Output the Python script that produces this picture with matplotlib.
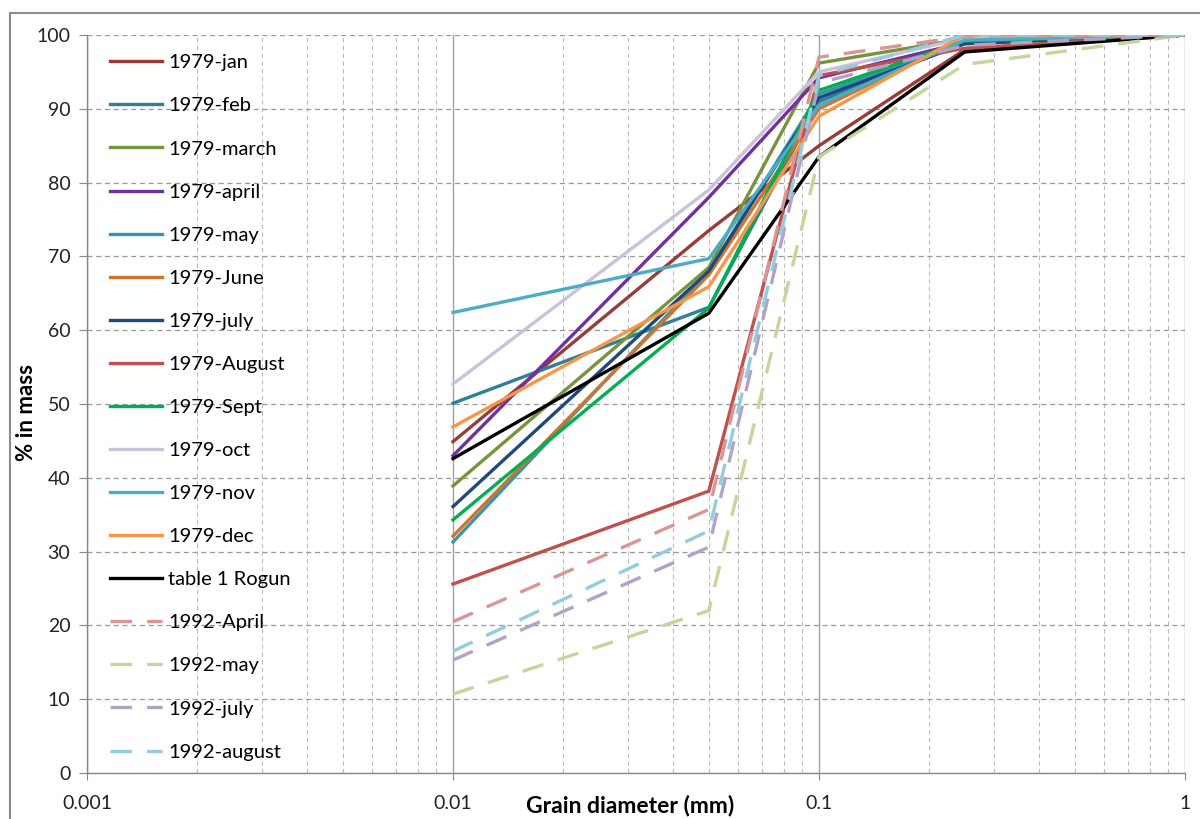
import matplotlib
matplotlib.use("Agg")
import matplotlib.pyplot as plt
from matplotlib.patches import Rectangle
from matplotlib.ticker import FixedLocator, NullFormatter, LogLocator

plt.rcParams['font.family'] = ['Lato', 'DejaVu Sans']

# grain diameters (mm) where each sample was measured
diameters = [0.01, 0.05, 0.1, 0.25, 1.0]

# % passing in mass, one list per sample
jan_1979 = [44.9, 73.5, 85.0, 98.0, 100]
feb_1979 = [50.1, 63.1, 91.0, 99.0, 100]
march_1979 = [38.9, 68.5, 96.2, 99.5, 100]
april_1979 = [43.0, 78.0, 94.2, 99.0, 100]
may_1979 = [31.3, 68.0, 92.0, 99.0, 100]
june_1979 = [32.1, 67.5, 90.0, 99.5, 100]
july_1979 = [36.1, 68.0, 91.5, 98.8, 100]
august_1979 = [25.6, 38.2, 94.5, 98.2, 100]
sept_1979 = [34.3, 63.0, 92.5, 99.2, 100]
oct_1979 = [52.7, 79.0, 95.0, 99.6, 100]
nov_1979 = [62.4, 69.7, 90.5, 99.3, 100]
dec_1979 = [46.9, 65.9, 89.0, 100, 100]
rogun_table1 = [42.6, 62.3, 83.5, 97.7, 100]
april_1992 = [20.5, 35.7, 97.0, 99.8, 100]
may_1992 = [10.7, 22.0, 83.5, 96.0, 100]
july_1992 = [15.3, 30.6, 93.5, 98.6, 100]
august_1992 = [16.5, 32.8, 94.5, 100, 100]

series = [
    ('1979-jan', jan_1979, '#9B3B38', '-'),
    ('1979-feb', feb_1979, '#2F7F96', '-'),
    ('1979-march', march_1979, '#77933C', '-'),
    ('1979-april', april_1979, '#7030A0', '-'),
    ('1979-may', may_1979, '#3A94AA', '-'),
    ('1979-June', june_1979, '#CC7530', '-'),
    ('1979-july', july_1979, '#1F497D', '-'),
    ('1979-August', august_1979, '#C0504D', '-'),
    ('1979-Sept', sept_1979, '#00B050', '-'),
    ('1979-oct', oct_1979, '#CCC0DA', '-'),
    ('1979-nov', nov_1979, '#4BACC6', '-'),
    ('1979-dec', dec_1979, '#F79646', '-'),
    ('table 1 Rogun', rogun_table1, '#000000', '-'),
    ('1992-April', april_1992, '#D99694', '--'),
    ('1992-may', may_1992, '#C3D69B', '--'),
    ('1992-july', july_1992, '#B3A2C7', '--'),
    ('1992-august', august_1992, '#93CDDD', '--'),
]

fig = plt.figure(figsize=(12, 8.19), dpi=100)
ax = fig.add_axes([87 / 1200, 46 / 819, 1098 / 1200, 738 / 819])

for label, values, color, style in series:
    if style == '--':
        ax.plot(diameters, values, color=color, lw=2.4, linestyle=(0, (6.5, 4.5)),
                label=label, dash_capstyle='butt')
    else:
        ax.plot(diameters, values, color=color, lw=2.4, label=label,
                solid_joinstyle='miter')

ax.set_xscale('log')
ax.set_xlim(0.001, 1)
ax.set_ylim(0, 100)
ax.xaxis.set_major_locator(FixedLocator([0.001, 0.01, 0.1, 1]))
ax.set_xticklabels(['0.001', '0.01', '0.1', '1'])
ax.xaxis.set_minor_locator(LogLocator(base=10, subs=range(2, 10)))
ax.xaxis.set_minor_formatter(NullFormatter())
ax.set_yticks(range(0, 101, 10))

ax.tick_params(axis='both', labelsize=14, colors='#222222')
ax.tick_params(axis='x', which='major', length=5, color='#888888', pad=11)
ax.tick_params(axis='x', which='minor', length=0)
ax.tick_params(axis='y', length=6, color='#888888', pad=6)

ax.grid(True, axis='x', which='major', color='#A0A0A0', lw=1.0, linestyle='-')
ax.grid(True, axis='x', which='minor', color='#BBBBBB', lw=0.8, linestyle=(0, (4, 3)))
ax.grid(True, axis='y', which='major', color='#999999', lw=0.9, linestyle=(0, (4, 3)))
ax.set_axisbelow(True)

for side in ['top', 'right']:
    ax.spines[side].set_visible(False)
for side in ['left', 'bottom']:
    ax.spines[side].set_color('#888888')
    ax.spines[side].set_linewidth(1.0)

ax.set_ylabel('% in mass', fontsize=16, fontweight='bold')
ax.yaxis.set_label_coords(-0.0455, 0.489)
fig.text(630 / 1200, 1 - 806 / 819, 'Grain diameter (mm)', fontsize=16.5,
         fontweight='bold', ha='center', va='center')

ax.legend(loc='upper left', bbox_to_anchor=(0.008, 0.993), frameon=False,
          fontsize=14.5, handlelength=2.6, handletextpad=0.3, labelspacing=1.29,
          borderaxespad=0.3)

# chart area border, as in the spreadsheet export
fig.patches.append(Rectangle((10 / 1200, -0.1), 1.2, 1 - 13 / 819 + 0.1,
                             transform=fig.transFigure, fill=False,
                             edgecolor='#8C8C8C', lw=1.5))

fig.savefig('out.png', dpi=100)
